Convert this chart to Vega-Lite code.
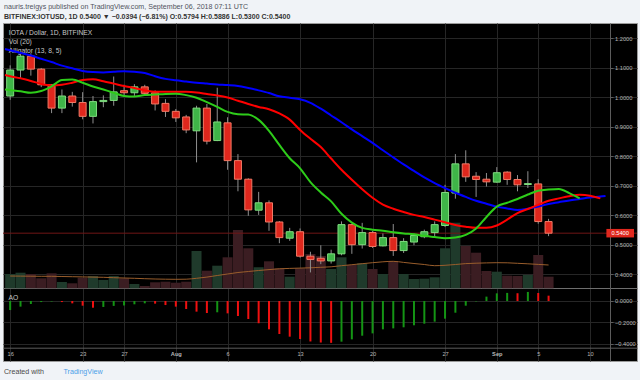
{
"$schema":"https://vega.github.io/schema/vega-lite/v6.json",
"width":634,"height":338,
"autosize":{"type":"none"},
"padding":{"left":3,"top":23,"right":3,"bottom":19},
"background":"#f0f3f7",
"config":{"view":{"fill":"#000000","stroke":"#9a9a9a","strokeWidth":1},"font":"Liberation Sans"},
"title":{"text":"nauris.treigys published on TradingView.com, September 06, 2018 07:11 UTC","subtitle":"BITFINEX:IOTUSD, 1D  0.5400 ▼ −0.0394 (−6.81%) O:0.5794 H:0.5886 L:0.5300 C:0.5400","anchor":"start","frame":"group","offset":3,"dx":1,"fontSize":7.1,"fontWeight":"normal","color":"#50535e","subtitleFontSize":7,"subtitleFontWeight":"bold","subtitleColor":"#333333","subtitlePadding":2.5,"font":"Liberation Sans","subtitleFont":"Liberation Sans"},
"datasets":{
"candles":[
{"date":"2018-07-16","open":1.005,"high":1.109,"low":0.992,"close":1.093,"volume":14.3},
{"date":"2018-07-17","open":1.093,"high":1.150,"low":1.063,"close":1.140,"volume":15.6},
{"date":"2018-07-18","open":1.140,"high":1.150,"low":1.074,"close":1.096,"volume":14.3},
{"date":"2018-07-19","open":1.096,"high":1.100,"low":1.035,"close":1.043,"volume":10.0},
{"date":"2018-07-20","open":1.043,"high":1.045,"low":0.947,"close":0.964,"volume":15.0},
{"date":"2018-07-21","open":0.964,"high":1.027,"low":0.947,"close":1.005,"volume":6.3},
{"date":"2018-07-22","open":1.005,"high":1.019,"low":0.969,"close":0.983,"volume":5.0},
{"date":"2018-07-23","open":0.983,"high":1.018,"low":0.926,"close":0.936,"volume":10.6},
{"date":"2018-07-24","open":0.936,"high":1.005,"low":0.912,"close":0.986,"volume":12.3},
{"date":"2018-07-25","open":0.986,"high":1.007,"low":0.967,"close":0.990,"volume":8.3},
{"date":"2018-07-26","open":0.990,"high":1.071,"low":0.972,"close":1.019,"volume":12.3},
{"date":"2018-07-27","open":1.023,"high":1.043,"low":1.003,"close":1.016,"volume":10.0},
{"date":"2018-07-28","open":1.016,"high":1.045,"low":1.005,"close":1.036,"volume":4.3},
{"date":"2018-07-29","open":1.036,"high":1.043,"low":1.009,"close":1.014,"volume":2.3},
{"date":"2018-07-30","open":1.016,"high":1.024,"low":0.956,"close":0.978,"volume":6.0},
{"date":"2018-07-31","open":0.980,"high":0.994,"low":0.934,"close":0.953,"volume":6.6},
{"date":"2018-08-01","open":0.953,"high":0.961,"low":0.917,"close":0.931,"volume":5.6},
{"date":"2018-08-02","open":0.934,"high":0.941,"low":0.879,"close":0.890,"volume":6.6},
{"date":"2018-08-03","open":0.887,"high":0.972,"low":0.780,"close":0.964,"volume":37.3},
{"date":"2018-08-04","open":0.964,"high":0.978,"low":0.841,"close":0.852,"volume":17.6},
{"date":"2018-08-05","open":0.854,"high":1.033,"low":0.852,"close":0.917,"volume":22.6},
{"date":"2018-08-06","open":0.914,"high":0.933,"low":0.755,"close":0.786,"volume":31.0},
{"date":"2018-08-07","open":0.786,"high":0.808,"low":0.682,"close":0.723,"volume":58.3},
{"date":"2018-08-08","open":0.723,"high":0.726,"low":0.599,"close":0.619,"volume":40.0},
{"date":"2018-08-09","open":0.618,"high":0.680,"low":0.602,"close":0.643,"volume":21.0},
{"date":"2018-08-10","open":0.643,"high":0.651,"low":0.548,"close":0.578,"volume":27.0},
{"date":"2018-08-11","open":0.578,"high":0.581,"low":0.506,"close":0.525,"volume":20.0},
{"date":"2018-08-12","open":0.523,"high":0.558,"low":0.514,"close":0.545,"volume":11.6},
{"date":"2018-08-13","open":0.545,"high":0.556,"low":0.457,"close":0.462,"volume":20.0},
{"date":"2018-08-14","open":0.462,"high":0.477,"low":0.407,"close":0.451,"volume":34.3},
{"date":"2018-08-15","open":0.455,"high":0.499,"low":0.435,"close":0.446,"volume":32.3},
{"date":"2018-08-16","open":0.446,"high":0.484,"low":0.437,"close":0.470,"volume":19.3},
{"date":"2018-08-17","open":0.470,"high":0.580,"low":0.465,"close":0.569,"volume":31.0},
{"date":"2018-08-18","open":0.569,"high":0.572,"low":0.470,"close":0.501,"volume":23.3},
{"date":"2018-08-19","open":0.501,"high":0.575,"low":0.488,"close":0.542,"volume":25.0},
{"date":"2018-08-20","open":0.542,"high":0.547,"low":0.490,"close":0.495,"volume":19.3},
{"date":"2018-08-21","open":0.497,"high":0.539,"low":0.495,"close":0.525,"volume":14.3},
{"date":"2018-08-22","open":0.525,"high":0.571,"low":0.463,"close":0.481,"volume":27.3},
{"date":"2018-08-23","open":0.481,"high":0.523,"low":0.473,"close":0.512,"volume":14.3},
{"date":"2018-08-24","open":0.510,"high":0.539,"low":0.499,"close":0.532,"volume":9.3},
{"date":"2018-08-25","open":0.528,"high":0.552,"low":0.523,"close":0.545,"volume":9.6},
{"date":"2018-08-26","open":0.542,"high":0.580,"low":0.525,"close":0.569,"volume":11.0},
{"date":"2018-08-27","open":0.566,"high":0.704,"low":0.561,"close":0.678,"volume":40.0},
{"date":"2018-08-28","open":0.676,"high":0.808,"low":0.657,"close":0.775,"volume":65.6},
{"date":"2018-08-29","open":0.775,"high":0.821,"low":0.714,"close":0.731,"volume":42.3},
{"date":"2018-08-30","open":0.733,"high":0.747,"low":0.663,"close":0.722,"volume":35.6},
{"date":"2018-08-31","open":0.723,"high":0.744,"low":0.698,"close":0.714,"volume":17.3},
{"date":"2018-09-01","open":0.713,"high":0.764,"low":0.711,"close":0.745,"volume":16.6},
{"date":"2018-09-02","open":0.747,"high":0.750,"low":0.704,"close":0.722,"volume":12.6},
{"date":"2018-09-03","open":0.722,"high":0.737,"low":0.682,"close":0.704,"volume":12.3},
{"date":"2018-09-04","open":0.705,"high":0.750,"low":0.693,"close":0.708,"volume":13.3},
{"date":"2018-09-05","open":0.707,"high":0.723,"low":0.572,"close":0.5794,"volume":33.3},
{"date":"2018-09-06","open":0.5794,"high":0.5886,"low":0.5300,"close":0.5400,"volume":11.6}
],
"volma":[
{"date":"2018-07-16","ma":12.3},{"date":"2018-07-17","ma":12.2},{"date":"2018-07-18","ma":12.1},{"date":"2018-07-19","ma":12.0},{"date":"2018-07-20","ma":12.0},{"date":"2018-07-21","ma":11.8},{"date":"2018-07-22","ma":11.6},{"date":"2018-07-23","ma":11.4},{"date":"2018-07-24","ma":11.2},{"date":"2018-07-25","ma":11.0},{"date":"2018-07-26","ma":10.6},{"date":"2018-07-27","ma":10.3},{"date":"2018-07-28","ma":10.0},{"date":"2018-07-29","ma":9.6},{"date":"2018-07-30","ma":9.3},{"date":"2018-07-31","ma":9.1},{"date":"2018-08-01","ma":9.0},{"date":"2018-08-02","ma":9.1},{"date":"2018-08-03","ma":10.0},{"date":"2018-08-04","ma":11.2},{"date":"2018-08-05","ma":12.8},{"date":"2018-08-06","ma":14.3},{"date":"2018-08-07","ma":15.8},{"date":"2018-08-08","ma":16.8},{"date":"2018-08-09","ma":17.8},{"date":"2018-08-10","ma":18.7},{"date":"2018-08-11","ma":19.5},{"date":"2018-08-12","ma":19.9},{"date":"2018-08-13","ma":20.2},{"date":"2018-08-14","ma":20.5},{"date":"2018-08-15","ma":21.0},{"date":"2018-08-16","ma":21.5},{"date":"2018-08-17","ma":22.6},{"date":"2018-08-18","ma":23.6},{"date":"2018-08-19","ma":24.6},{"date":"2018-08-20","ma":25.6},{"date":"2018-08-21","ma":26.5},{"date":"2018-08-22","ma":27.0},{"date":"2018-08-23","ma":25.9},{"date":"2018-08-24","ma":24.8},{"date":"2018-08-25","ma":23.8},{"date":"2018-08-26","ma":22.6},{"date":"2018-08-27","ma":23.0},{"date":"2018-08-28","ma":23.8},{"date":"2018-08-29","ma":24.7},{"date":"2018-08-30","ma":25.1},{"date":"2018-08-31","ma":25.4},{"date":"2018-09-01","ma":25.6},{"date":"2018-09-02","ma":25.5},{"date":"2018-09-03","ma":25.0},{"date":"2018-09-04","ma":24.5},{"date":"2018-09-05","ma":23.9},{"date":"2018-09-06","ma":23.3}
],
"alligator":[
{"date":"2018-07-15T12:00:00Z","line":"jaw","value":1.164},{"date":"2018-07-16","line":"jaw","value":1.160},{"date":"2018-07-17","line":"jaw","value":1.151},{"date":"2018-07-18","line":"jaw","value":1.142},{"date":"2018-07-19","line":"jaw","value":1.131},{"date":"2018-07-20","line":"jaw","value":1.120},{"date":"2018-07-21","line":"jaw","value":1.108},{"date":"2018-07-22","line":"jaw","value":1.099},{"date":"2018-07-23","line":"jaw","value":1.090},{"date":"2018-07-24","line":"jaw","value":1.086},{"date":"2018-07-25","line":"jaw","value":1.085},{"date":"2018-07-26","line":"jaw","value":1.087},{"date":"2018-07-27","line":"jaw","value":1.089},{"date":"2018-07-28","line":"jaw","value":1.087},{"date":"2018-07-29","line":"jaw","value":1.083},{"date":"2018-07-30","line":"jaw","value":1.072},{"date":"2018-07-31","line":"jaw","value":1.063},{"date":"2018-08-01","line":"jaw","value":1.058},{"date":"2018-08-02","line":"jaw","value":1.054},{"date":"2018-08-03","line":"jaw","value":1.050},{"date":"2018-08-04","line":"jaw","value":1.047},{"date":"2018-08-05","line":"jaw","value":1.044},{"date":"2018-08-06","line":"jaw","value":1.042},{"date":"2018-08-07","line":"jaw","value":1.039},{"date":"2018-08-08","line":"jaw","value":1.032},{"date":"2018-08-09","line":"jaw","value":1.024},{"date":"2018-08-10","line":"jaw","value":1.015},{"date":"2018-08-11","line":"jaw","value":1.004},{"date":"2018-08-12","line":"jaw","value":0.999},{"date":"2018-08-13","line":"jaw","value":0.994},{"date":"2018-08-14","line":"jaw","value":0.982},{"date":"2018-08-15","line":"jaw","value":0.962},{"date":"2018-08-16","line":"jaw","value":0.939},{"date":"2018-08-17","line":"jaw","value":0.916},{"date":"2018-08-18","line":"jaw","value":0.892},{"date":"2018-08-19","line":"jaw","value":0.869},{"date":"2018-08-20","line":"jaw","value":0.846},{"date":"2018-08-21","line":"jaw","value":0.821},{"date":"2018-08-22","line":"jaw","value":0.797},{"date":"2018-08-23","line":"jaw","value":0.773},{"date":"2018-08-24","line":"jaw","value":0.751},{"date":"2018-08-25","line":"jaw","value":0.729},{"date":"2018-08-26","line":"jaw","value":0.710},{"date":"2018-08-27","line":"jaw","value":0.693},{"date":"2018-08-28","line":"jaw","value":0.677},{"date":"2018-08-29","line":"jaw","value":0.663},{"date":"2018-08-30","line":"jaw","value":0.650},{"date":"2018-08-31","line":"jaw","value":0.640},{"date":"2018-09-01","line":"jaw","value":0.630},{"date":"2018-09-02","line":"jaw","value":0.624},{"date":"2018-09-03","line":"jaw","value":0.619},{"date":"2018-09-04","line":"jaw","value":0.623},{"date":"2018-09-05","line":"jaw","value":0.630},{"date":"2018-09-06","line":"jaw","value":0.639},{"date":"2018-09-07","line":"jaw","value":0.645},{"date":"2018-09-08","line":"jaw","value":0.651},{"date":"2018-09-09","line":"jaw","value":0.656},{"date":"2018-09-10","line":"jaw","value":0.661},{"date":"2018-09-11","line":"jaw","value":0.664},{"date":"2018-09-11T12:00:00Z","line":"jaw","value":0.666},
{"date":"2018-07-15T12:00:00Z","line":"teeth","value":1.076},{"date":"2018-07-16","line":"teeth","value":1.072},{"date":"2018-07-17","line":"teeth","value":1.065},{"date":"2018-07-18","line":"teeth","value":1.056},{"date":"2018-07-19","line":"teeth","value":1.046},{"date":"2018-07-20","line":"teeth","value":1.041},{"date":"2018-07-21","line":"teeth","value":1.043},{"date":"2018-07-22","line":"teeth","value":1.050},{"date":"2018-07-23","line":"teeth","value":1.059},{"date":"2018-07-24","line":"teeth","value":1.062},{"date":"2018-07-25","line":"teeth","value":1.055},{"date":"2018-07-26","line":"teeth","value":1.047},{"date":"2018-07-27","line":"teeth","value":1.039},{"date":"2018-07-28","line":"teeth","value":1.032},{"date":"2018-07-29","line":"teeth","value":1.024},{"date":"2018-07-30","line":"teeth","value":1.019},{"date":"2018-07-31","line":"teeth","value":1.019},{"date":"2018-08-01","line":"teeth","value":1.019},{"date":"2018-08-02","line":"teeth","value":1.019},{"date":"2018-08-03","line":"teeth","value":1.017},{"date":"2018-08-04","line":"teeth","value":1.012},{"date":"2018-08-05","line":"teeth","value":1.007},{"date":"2018-08-06","line":"teeth","value":1.000},{"date":"2018-08-07","line":"teeth","value":0.989},{"date":"2018-08-08","line":"teeth","value":0.978},{"date":"2018-08-09","line":"teeth","value":0.968},{"date":"2018-08-10","line":"teeth","value":0.960},{"date":"2018-08-11","line":"teeth","value":0.946},{"date":"2018-08-12","line":"teeth","value":0.925},{"date":"2018-08-13","line":"teeth","value":0.890},{"date":"2018-08-14","line":"teeth","value":0.860},{"date":"2018-08-15","line":"teeth","value":0.832},{"date":"2018-08-16","line":"teeth","value":0.793},{"date":"2018-08-17","line":"teeth","value":0.755},{"date":"2018-08-18","line":"teeth","value":0.721},{"date":"2018-08-19","line":"teeth","value":0.689},{"date":"2018-08-20","line":"teeth","value":0.660},{"date":"2018-08-21","line":"teeth","value":0.637},{"date":"2018-08-22","line":"teeth","value":0.623},{"date":"2018-08-23","line":"teeth","value":0.612},{"date":"2018-08-24","line":"teeth","value":0.602},{"date":"2018-08-25","line":"teeth","value":0.595},{"date":"2018-08-26","line":"teeth","value":0.586},{"date":"2018-08-27","line":"teeth","value":0.577},{"date":"2018-08-28","line":"teeth","value":0.568},{"date":"2018-08-29","line":"teeth","value":0.562},{"date":"2018-08-30","line":"teeth","value":0.558},{"date":"2018-08-31","line":"teeth","value":0.558},{"date":"2018-09-01","line":"teeth","value":0.566},{"date":"2018-09-02","line":"teeth","value":0.586},{"date":"2018-09-03","line":"teeth","value":0.608},{"date":"2018-09-04","line":"teeth","value":0.622},{"date":"2018-09-05","line":"teeth","value":0.636},{"date":"2018-09-06","line":"teeth","value":0.650},{"date":"2018-09-07","line":"teeth","value":0.658},{"date":"2018-09-08","line":"teeth","value":0.665},{"date":"2018-09-09","line":"teeth","value":0.670},{"date":"2018-09-10","line":"teeth","value":0.667},{"date":"2018-09-11","line":"teeth","value":0.658},
{"date":"2018-07-15T12:00:00Z","line":"lips","value":1.027},{"date":"2018-07-16","line":"lips","value":1.025},{"date":"2018-07-17","line":"lips","value":1.021},{"date":"2018-07-18","line":"lips","value":1.016},{"date":"2018-07-19","line":"lips","value":1.022},{"date":"2018-07-20","line":"lips","value":1.038},{"date":"2018-07-21","line":"lips","value":1.059},{"date":"2018-07-22","line":"lips","value":1.061},{"date":"2018-07-23","line":"lips","value":1.050},{"date":"2018-07-24","line":"lips","value":1.037},{"date":"2018-07-25","line":"lips","value":1.027},{"date":"2018-07-26","line":"lips","value":1.016},{"date":"2018-07-27","line":"lips","value":1.005},{"date":"2018-07-28","line":"lips","value":1.003},{"date":"2018-07-29","line":"lips","value":1.008},{"date":"2018-07-30","line":"lips","value":1.010},{"date":"2018-07-31","line":"lips","value":1.012},{"date":"2018-08-01","line":"lips","value":1.013},{"date":"2018-08-02","line":"lips","value":1.008},{"date":"2018-08-03","line":"lips","value":0.999},{"date":"2018-08-04","line":"lips","value":0.984},{"date":"2018-08-05","line":"lips","value":0.968},{"date":"2018-08-06","line":"lips","value":0.951},{"date":"2018-08-07","line":"lips","value":0.943},{"date":"2018-08-08","line":"lips","value":0.942},{"date":"2018-08-09","line":"lips","value":0.924},{"date":"2018-08-10","line":"lips","value":0.887},{"date":"2018-08-11","line":"lips","value":0.839},{"date":"2018-08-12","line":"lips","value":0.794},{"date":"2018-08-13","line":"lips","value":0.760},{"date":"2018-08-14","line":"lips","value":0.713},{"date":"2018-08-15","line":"lips","value":0.678},{"date":"2018-08-16","line":"lips","value":0.648},{"date":"2018-08-17","line":"lips","value":0.606},{"date":"2018-08-18","line":"lips","value":0.576},{"date":"2018-08-19","line":"lips","value":0.558},{"date":"2018-08-20","line":"lips","value":0.552},{"date":"2018-08-21","line":"lips","value":0.548},{"date":"2018-08-22","line":"lips","value":0.543},{"date":"2018-08-23","line":"lips","value":0.539},{"date":"2018-08-24","line":"lips","value":0.536},{"date":"2018-08-25","line":"lips","value":0.531},{"date":"2018-08-26","line":"lips","value":0.527},{"date":"2018-08-27","line":"lips","value":0.523},{"date":"2018-08-28","line":"lips","value":0.525},{"date":"2018-08-29","line":"lips","value":0.534},{"date":"2018-08-30","line":"lips","value":0.556},{"date":"2018-08-31","line":"lips","value":0.595},{"date":"2018-09-01","line":"lips","value":0.630},{"date":"2018-09-02","line":"lips","value":0.643},{"date":"2018-09-03","line":"lips","value":0.656},{"date":"2018-09-04","line":"lips","value":0.671},{"date":"2018-09-05","line":"lips","value":0.684},{"date":"2018-09-06","line":"lips","value":0.688},{"date":"2018-09-07","line":"lips","value":0.690},{"date":"2018-09-08","line":"lips","value":0.676},{"date":"2018-09-09","line":"lips","value":0.658}
],
"ao":[
{"date":"2018-07-16","ao":-0.085,"dir":"up"},{"date":"2018-07-17","ao":-0.053,"dir":"up"},{"date":"2018-07-18","ao":-0.028,"dir":"up"},{"date":"2018-07-19","ao":-0.010,"dir":"up"},{"date":"2018-07-20","ao":-0.005,"dir":"up"},{"date":"2018-07-21","ao":-0.010,"dir":"down"},{"date":"2018-07-22","ao":-0.022,"dir":"down"},{"date":"2018-07-23","ao":-0.044,"dir":"down"},{"date":"2018-07-24","ao":-0.063,"dir":"down"},{"date":"2018-07-25","ao":-0.056,"dir":"up"},{"date":"2018-07-26","ao":-0.046,"dir":"up"},{"date":"2018-07-27","ao":-0.042,"dir":"up"},{"date":"2018-07-28","ao":-0.031,"dir":"up"},{"date":"2018-07-29","ao":-0.022,"dir":"up"},{"date":"2018-07-30","ao":-0.025,"dir":"down"},{"date":"2018-07-31","ao":-0.038,"dir":"down"},{"date":"2018-08-01","ao":-0.053,"dir":"down"},{"date":"2018-08-02","ao":-0.075,"dir":"down"},{"date":"2018-08-03","ao":-0.100,"dir":"down"},{"date":"2018-08-04","ao":-0.113,"dir":"down"},{"date":"2018-08-05","ao":-0.106,"dir":"up"},{"date":"2018-08-06","ao":-0.116,"dir":"down"},{"date":"2018-08-07","ao":-0.141,"dir":"down"},{"date":"2018-08-08","ao":-0.169,"dir":"down"},{"date":"2018-08-09","ao":-0.210,"dir":"down"},{"date":"2018-08-10","ao":-0.266,"dir":"down"},{"date":"2018-08-11","ao":-0.310,"dir":"down"},{"date":"2018-08-12","ao":-0.335,"dir":"down"},{"date":"2018-08-13","ao":-0.357,"dir":"down"},{"date":"2018-08-14","ao":-0.380,"dir":"down"},{"date":"2018-08-15","ao":-0.390,"dir":"down"},{"date":"2018-08-16","ao":-0.393,"dir":"down"},{"date":"2018-08-17","ao":-0.382,"dir":"up"},{"date":"2018-08-18","ao":-0.360,"dir":"up"},{"date":"2018-08-19","ao":-0.326,"dir":"up"},{"date":"2018-08-20","ao":-0.304,"dir":"up"},{"date":"2018-08-21","ao":-0.266,"dir":"up"},{"date":"2018-08-22","ao":-0.257,"dir":"up"},{"date":"2018-08-23","ao":-0.247,"dir":"up"},{"date":"2018-08-24","ao":-0.228,"dir":"up"},{"date":"2018-08-25","ao":-0.213,"dir":"up"},{"date":"2018-08-26","ao":-0.194,"dir":"up"},{"date":"2018-08-27","ao":-0.166,"dir":"up"},{"date":"2018-08-28","ao":-0.110,"dir":"up"},{"date":"2018-08-29","ao":-0.044,"dir":"up"},{"date":"2018-08-30","ao":-0.004,"dir":"up"},{"date":"2018-08-31","ao":0.041,"dir":"up"},{"date":"2018-09-01","ao":0.072,"dir":"up"},{"date":"2018-09-02","ao":0.076,"dir":"up"},{"date":"2018-09-03","ao":0.073,"dir":"down"},{"date":"2018-09-04","ao":0.085,"dir":"up"},{"date":"2018-09-05","ao":0.075,"dir":"down"},{"date":"2018-09-06","ao":0.050,"dir":"down"}
],
"last":[{"price":0.54}]
},
"layer":[
{"data":{"name":"candles"},
 "layer":[
  {"mark":{"type":"bar","size":10,"clip":true},
   "encoding":{
    "x":{"field":"date","type":"temporal",
      "scale":{"type":"utc","domain":[{"year":2018,"month":7,"date":15,"hours":19,"utc":true},{"year":2018,"month":9,"date":14,"hours":1,"minutes":22,"utc":true}]},
      "axis":{"orient":"bottom","offset":-13.3,
        "values":[{"year":2018,"month":7,"date":16,"utc":true},{"year":2018,"month":7,"date":23,"utc":true},{"year":2018,"month":7,"date":27,"utc":true},{"year":2018,"month":8,"date":1,"utc":true},{"year":2018,"month":8,"date":6,"utc":true},{"year":2018,"month":8,"date":13,"utc":true},{"year":2018,"month":8,"date":20,"utc":true},{"year":2018,"month":8,"date":27,"utc":true},{"year":2018,"month":9,"date":1,"utc":true},{"year":2018,"month":9,"date":5,"utc":true},{"year":2018,"month":9,"date":10,"utc":true}],
        "labelExpr":"utcdate(datum.value) == 1 ? utcFormat(datum.value, '%b') : utcFormat(datum.value, '%-d')",
        "labelFontWeight":{"condition":{"test":"utcdate(datum.value) == 1","value":"bold"},"value":"normal"},
        "grid":true,"gridColor":"#262626","ticks":false,"domain":true,"domainColor":"#5c5c5c",
        "labelColor":"#b8b8b8","labelFontSize":5.7,"labelPadding":3,"labelFlush":false,"labelOverlap":false,"labelBound":false,
        "title":"Created with","titleAlign":"left","titleBaseline":"middle","titleAngle":0,"titleX":0.5,"titleY":23.3,"titleFontSize":7.1,"titleFontWeight":"normal","titleColor":"#4a4a4a"}},
    "y":{"field":"volume","type":"quantitative","scale":{"domain":[-72.7,265.3],"nice":false,"zero":false},
      "axis":{"orient":"left","values":[0],"grid":true,"gridColor":"#6e6e6e","labels":false,"ticks":false,"domain":false,
        "title":["IOTA / Dollar, 1D, BITFINEX","Vol (20)","Alligator (13, 8, 5)"],"titleAngle":0,"titleAlign":"left","titleBaseline":"top","titleX":5.3,"titleY":6,"titleFontSize":6.7,"titleFontWeight":"normal","titleColor":"#c8c8c8","titleLineHeight":9.3}},
    "y2":{"datum":0},
    "color":{"condition":{"test":"datum.close >= datum.open","value":"#1f3a2b"},"value":"#3b1d22"}
   }},
  {"data":{"name":"volma"},"mark":{"type":"line","color":"#9a5e2c","strokeWidth":1,"interpolate":"monotone","clip":true},
   "encoding":{"x":{"field":"date","type":"temporal"},"y":{"field":"ma","type":"quantitative"}}}
 ]},
{"data":{"name":"candles"},
 "layer":[
  {"data":{"name":"last"},"mark":{"type":"rule","color":"#701616","strokeWidth":1},
   "encoding":{"y":{"field":"price","type":"quantitative"}}},
  {"mark":{"type":"rule","color":"#8f8f8f","strokeWidth":1,"clip":true},
   "encoding":{"x":{"field":"date","type":"temporal"},
    "y":{"field":"low","type":"quantitative","scale":{"domain":[0.1237,1.2355],"nice":false,"zero":false},
      "axis":{"orient":"right","offset":-27,"values":[0.4,0.5,0.6,0.7,0.8,0.9,1.0,1.1,1.2],"format":".4f","grid":true,"gridColor":"#262626",
        "labelColor":"#b8b8b8","labelFontSize":5.7,"labelAlign":"left","labelPadding":1.5,"tickSize":3,"tickColor":"#5c5c5c","domain":true,"domainColor":"#5c5c5c",
        "title":"TradingView","titleAngle":0,"titleAlign":"left","titleBaseline":"middle","titleX":-547,"titleY":348,"titleFontSize":7.1,"titleFontWeight":"normal","titleColor":"#4ba0e8"}},
    "y2":{"field":"high"}}},
  {"mark":{"type":"bar","size":7,"strokeWidth":1,"clip":true},
   "encoding":{"x":{"field":"date","type":"temporal"},"y":{"field":"open","type":"quantitative"},"y2":{"field":"close"},
    "color":{"condition":{"test":"datum.close >= datum.open","value":"#3fb548"},"value":"#df271d"},
    "stroke":{"condition":{"test":"datum.close >= datum.open","value":"#7fdc7f"},"value":"#f27a66"}}},
  {"data":{"name":"alligator"},"mark":{"type":"line","strokeWidth":2,"interpolate":"monotone","clip":true},
   "encoding":{"x":{"field":"date","type":"temporal"},"y":{"field":"value","type":"quantitative"},
    "color":{"field":"line","type":"nominal","scale":{"domain":["jaw","teeth","lips"],"range":["#0000ff","#ff0000","#2ecc1a"]},"legend":null}}},
  {"data":{"name":"last"},"mark":{"type":"bar","size":8.5,"color":"#e0281e","clip":true},
   "encoding":{"y":{"field":"price","type":"quantitative"},
    "x":{"datum":{"year":2018,"month":9,"date":11,"hours":14,"utc":true},"type":"temporal"},
    "x2":{"datum":{"year":2018,"month":9,"date":14,"hours":6,"utc":true}}}},
  {"data":{"name":"last"},"mark":{"type":"text","color":"#ffffff","fontSize":5.7,"align":"center","baseline":"middle"},
   "encoding":{"y":{"field":"price","type":"quantitative"},
    "x":{"datum":{"year":2018,"month":9,"date":12,"hours":22,"utc":true},"type":"temporal"},
    "text":{"field":"price","type":"quantitative","format":".4f"}}}
 ]},
{"data":{"name":"ao"},
 "layer":[
  {"mark":{"type":"bar","size":2,"clip":true},
   "encoding":{"x":{"field":"date","type":"temporal"},
    "y":{"field":"ao","type":"quantitative","scale":{"domain":[-0.5634,2.6103],"nice":false,"zero":false},
      "axis":{"orient":"right","offset":-27,"values":[0,-0.2,-0.4],"format":".4f","grid":true,"gridColor":"#262626",
        "labelColor":"#b8b8b8","labelFontSize":5.7,"labelAlign":"left","labelPadding":1.5,"tickSize":3,"tickColor":"#5c5c5c","domain":false,
        "title":"AO","titleAngle":0,"titleAlign":"left","titleBaseline":"middle","titleX":-602,"titleY":274.5,"titleFontSize":6.7,"titleFontWeight":"normal","titleColor":"#c8c8c8"}},
    "y2":{"datum":0},
    "color":{"condition":{"test":"datum.dir == 'up'","value":"#149414"},"value":"#f01010"}}}
 ]}
],
"resolve":{"scale":{"y":"independent"},"axis":{"y":"independent"}}
}
